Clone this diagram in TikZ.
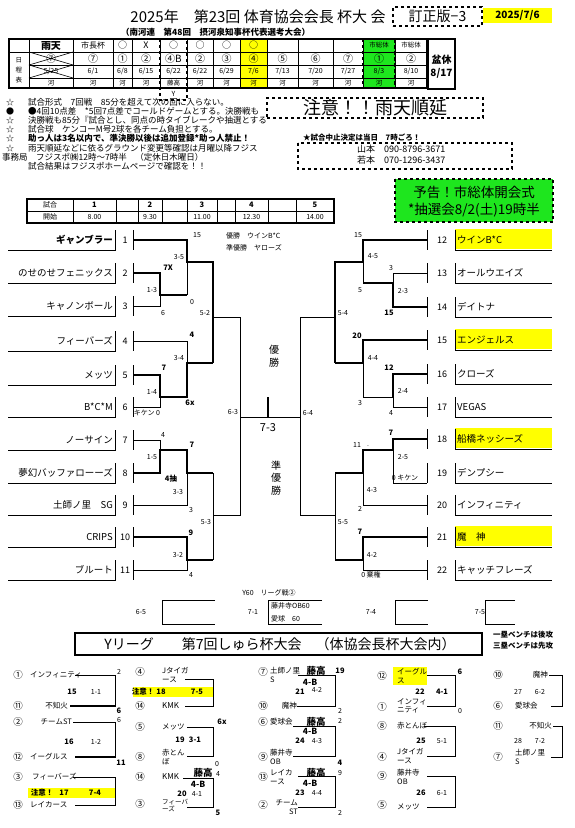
\documentclass[tikz,border=0pt]{standalone}
\usepackage{fontspec}
\setmainfont{Noto Sans CJK JP}
\usepackage{xcolor}
\usetikzlibrary{positioning}
\definecolor{markyellow}{RGB}{255,255,0}
\definecolor{markgreen}{RGB}{30,230,30}

\begin{document}
\begin{tikzpicture}[x=1pt, y=-1pt,
  thinl/.style={line width=0.6pt},
  wonl/.style={line width=2.4pt},
  dashbox/.style={draw, dashed, line width=1.2pt},
  sc/.style={inner sep=0pt, font=\fontsize{7}{8}\selectfont},
  scb/.style={inner sep=0pt, font=\bfseries\fontsize{7.5}{8}\selectfont},
  cell/.style={inner sep=0pt, font=\fontsize{6.5}{7}\selectfont},
  circ/.style={inner sep=0pt, font=\fontsize{10}{10}\selectfont},
  tmname/.style={inner sep=1pt, font=\fontsize{9.5}{11}\selectfont},
  tmnum/.style={inner sep=0pt, font=\fontsize{9}{10}\selectfont},
  note/.style={anchor=west, inner sep=0pt, font=\fontsize{8.5}{10}\selectfont},
  ynum/.style={inner sep=0pt, font=\fontsize{9.5}{10}\selectfont},
  yname/.style={inner sep=0pt, align=left, font=\fontsize{7.5}{8.5}\selectfont},
  fujita/.style={inner sep=0pt, font=\bfseries\fontsize{9.5}{10}\selectfont}
]
\fill[white] (0,0) rectangle (574,828);

% header
\node[font=\fontsize{15}{17}\selectfont, inner sep=0pt] (title) at (258,17) {2025年　第23回 体育協会会長 杯大 会};
\node[font=\bfseries\fontsize{8.5}{10}\selectfont, anchor=west, inner sep=0pt] (subtitle) at (121,32) {（南河連　第48回　摂河泉知事杯代表選考大会）};
\node[dashbox, minimum width=89, minimum height=19, inner sep=0pt, font=\fontsize{14}{16}\selectfont] (rev) at (437.5,16.5) {訂正版−3};
\node[fill=markyellow, minimum width=69, minimum height=15, inner sep=0pt, font=\bfseries\fontsize{10}{12}\selectfont] (date) at (517.5,15.5) {2025/7/6};

% schedule
\fill[markyellow] (240,39) rectangle (267,88);
\fill[markgreen] (363,39) rectangle (395,88);
\foreach \x in {29,73,113,132,160,187,213,240,267,298,333,363,395}
  \draw[thinl] (\x,39) -- (\x,88);
\draw[thinl] (9,52) -- (427,52);
\draw[thinl] (29,65) -- (427,65);
\draw[thinl] (29,78) -- (427,78);
\draw[line width=1.5pt] (9,39) rectangle (427,88);
\draw[dashbox] (160,39) rectangle (187,100);
\draw[dashbox] (363,39) rectangle (395,88);
\draw[dashbox] (395,39) rectangle (427,88);
\node[inner sep=0pt, font=\bfseries\fontsize{10}{10}\selectfont] (rain0) at (51,45.5) {雨天};
\node[inner sep=0pt, font=\fontsize{8}{8}\selectfont] (cup0) at (93,45.5) {市長杯};
\foreach \x/\t in {122.5/○, 146/X, 173.5/○, 200/○, 226.5/○, 253.5/○}
  \node[inner sep=0pt, font=\fontsize{9}{9}\selectfont] at (\x,45.5) {\t};
\node[cell] (city1) at (379,45.5) {市総体};
\node[cell] (city2) at (411,45.5) {市総体};
\foreach \x/\t in {51/⑦, 93/⑦, 122.5/①, 146/②, 173.5/④B, 200/②, 226.5/③, 253.5/④, 282.5/⑤, 315.5/⑥, 348/⑦, 379/①, 411/②}
  \node[circ] at (\x,58.5) {\t};
\foreach \x/\t in {51/{5/25}, 93/{6/1}, 122.5/{6/8}, 146/{6/15}, 173.5/{6/22}, 200/{6/22}, 226.5/{6/29}, 253.5/{7/6}, 282.5/{7/13}, 315.5/{7/20}, 348/{7/27}, 379/{8/3}, 411/{8/10}}
  \node[sc] at (\x,71.5) {\t};
\foreach \x/\t in {51/河, 93/河, 122.5/河, 146/河, 173.5/藤高, 200/河, 226.5/河, 253.5/河, 282.5/河, 315.5/河, 348/河, 379/河, 411/河}
  \node[cell] at (\x,83) {\t};
\draw[thinl] (29,52) -- (73,65) (29,65) -- (73,52);
\draw[thinl] (29,65) -- (73,78) (29,78) -- (73,65);
\node[cell] (d1) at (19,60) {日};
\node[cell] (d2) at (19,70) {程};
\node[cell] (d3) at (19,80) {表};
\node[sc] (ymark) at (173.5,94) {Y};
\draw[line width=1.8pt] (428,39) rectangle (455,89);
\node[inner sep=0pt, font=\bfseries\fontsize{10}{10}\selectfont] (bon) at (441.5,60) {盆休};
\node[inner sep=0pt, font=\bfseries\fontsize{10}{10}\selectfont] (bond) at (441.5,73) {8/17};

% notes
\foreach \y/\s in {102/☆, 111/●, 120.5/☆, 129.5/☆, 138.5/☆, 148/☆}
  \node[inner sep=0pt, font=\fontsize{8}{8}\selectfont] at (10,\y) {\s};
\node[note] (n1) at (28,102) {試合形式　7回戦　85分を超えて次の回に入らない。};
\node[note] (n2) at (28,111) {●4回10点差　*5回7点差でコールドゲームとする。決勝戦も};
\node[note] (n3) at (28,120.5) {決勝戦も85分『試合とし、同点の時タイブレークや抽選とする};
\node[note] (n4) at (28,129.5) {試合球　ケンコーM号2球を各チーム負担とする。};
\node[note, font=\bfseries\fontsize{8.5}{10}\selectfont] (n5) at (28,138.5) {助っ人は3名以内で、準決勝以後は追加登録*助っ人禁止！};
\node[note] (n6) at (28,148) {雨天順延などに依るグラウンド変更等確認は月曜以降フジス};
\node[note] (n7) at (2,157) {事務局　フジスポ㈱12時～7時半　（定休日木曜日）};
\node[note] (n8) at (28,166) {試合結果はフジスポホームページで確認を！！};

\node[dashbox, minimum width=216, minimum height=20, inner sep=0pt, font=\fontsize{18}{19}\selectfont] (rain) at (375,108) {注意！！雨天順延};
\node[anchor=west, inner sep=0pt, font=\bfseries\fontsize{7.5}{9}\selectfont] (stop) at (303,138) {★試合中止決定は当日　7時ごろ！};
\draw[dashbox] (298,143) rectangle (512,169);
\node[anchor=west, inner sep=0pt, font=\fontsize{9}{10}\selectfont] (tel1) at (357,149.5) {山本　090-8796-3671};
\node[anchor=west, inner sep=0pt, font=\fontsize{9}{10}\selectfont] (tel2) at (357,160.5) {若本　070-1296-3437};
\draw[dashbox, fill=markgreen] (395,179) rectangle (553,222);
\node[inner sep=0pt, font=\fontsize{13.5}{15}\selectfont] (open1) at (474,192) {予告！市総体開会式};
\node[inner sep=0pt, font=\fontsize{13.5}{15}\selectfont] (open2) at (474,210) {*抽選会8/2(土)19時半};

% start times
\draw[line width=1.5pt] (27,199) rectangle (334,223);
\draw[thinl] (27,211) -- (334,211);
\foreach \x in {73,116,138,162,187,217,235,268,296}
  \draw[thinl] (\x,199) -- (\x,223);
\node[sc] (game) at (50,205) {試合};
\node[sc] (start) at (50,217) {開始};
\foreach \x/\g/\t in {94.5/1/8.00, 150/2/9.30, 202/3/11.00, 251.5/4/12.30, 315/5/14.00}{
  \node[scb] at (\x,205) {\g};
  \node[sc] at (\x,217) {\t};
}

% teams
\foreach \y/\n/\t in {240/1/{\bfseries ギャンブラー}, 273/2/のせのせフェニックス, 306/3/キャノンボール, 341/4/フィーバーズ, 375/5/メッツ, 407/6/B*C*M, 440/7/ノーサイン, 473/8/夢幻バッファローーズ, 505/9/土師ノ里　SG, 537/10/CRIPS, 570/11/ブルート}{
  \draw[thinl] (8,\y+10) -- (115,\y+10) -- (115,\y-10);
  \node[tmname, anchor=east] (L\n) at (114,\y) {\t};
  \node[tmnum] at (125,\y) {\n};
  \draw[thinl] (133,\y-10) -- (133,\y+10);
}
\foreach \y in {240,340,439,537}
  \fill[markyellow] (455,\y-11) rectangle (552,\y+9);
\foreach \y/\n/\t in {240/12/ウインB*C, 273/13/オールウエイズ, 307/14/デイトナ, 340/15/エンジェルス, 374/16/クローズ, 407/17/VEGAS, 439/18/船橋ネッシーズ, 473/19/デンプシー, 505/20/インフィニティ, 537/21/魔　神, 570/22/キャッチフレーズ}{
  \draw[thinl] (427,\y-10) -- (427,\y+10);
  \node[tmnum] at (442,\y) {\n};
  \draw[thinl] (455,\y-10) -- (455,\y+10) -- (552,\y+10);
  \node[tmname, anchor=west] (R\n) at (456,\y) {\t};
}

% left bracket
\draw[wonl] (133,240) -- (187,240) -- (187,262) -- (213,262) -- (213,363);
\draw[thinl] (187,262) -- (187,295);
\draw[wonl] (133,273) -- (160,273) -- (160,295) -- (187,295);
\draw[thinl] (133,306) -- (160,306) -- (160,295);
\draw[thinl] (133,341) -- (187,341) -- (187,363);
\draw[wonl] (133,375) -- (160,375) -- (160,397) -- (187,397) -- (187,363) -- (213,363);
\draw[thinl] (133,407) -- (160,407) -- (160,397);
\draw[thinl] (213,317) -- (240,317) -- (240,515) -- (213,515);
\draw[thinl] (133,440) -- (160,440) -- (160,450);
\draw[wonl] (133,473) -- (160,473) -- (160,450) -- (187,450) -- (187,473) -- (213,473);
\draw[thinl] (133,505) -- (187,505) -- (187,473);
\draw[wonl] (133,537) -- (187,537) -- (187,560) -- (213,560);
\draw[thinl] (133,570) -- (187,570) -- (187,560);
\draw[thinl] (213,473) -- (213,560);

% final
\draw[thinl] (240,417) -- (300,417);
\draw[wonl] (268,397) -- (268,417);
\node[inner sep=0pt, font=\fontsize{11}{11}\selectfont] (final) at (268,428) {7-3};
\node[inner sep=0pt, font=\fontsize{10}{10}\selectfont] at (274,350) {優};
\node[inner sep=0pt, font=\fontsize{10}{10}\selectfont] at (274,363) {勝};
\node[inner sep=0pt, font=\fontsize{10}{10}\selectfont] at (276,466) {準};
\node[inner sep=0pt, font=\fontsize{10}{10}\selectfont] at (276,478) {優};
\node[inner sep=0pt, font=\fontsize{10}{10}\selectfont] at (276,491) {勝};
\node[anchor=west, sc] (champ) at (226,236) {優勝　ウインB*C};
\node[anchor=west, sc] (second) at (226,248) {準優勝　ヤローズ};

% right bracket
\draw[wonl] (427,240) -- (363,240) -- (363,262) -- (335,262) -- (335,363);
\draw[thinl] (363,262) -- (363,283);
\draw[thinl] (427,273) -- (393,273) -- (393,283);
\draw[wonl] (427,307) -- (393,307) -- (393,283) -- (363,283);
\draw[thinl] (335,317) -- (300,317) -- (300,515) -- (335,515);
\draw[wonl] (427,340) -- (363,340) -- (363,363) -- (335,363);
\draw[thinl] (363,363) -- (363,397) -- (393,397);
\draw[wonl] (427,374) -- (393,374) -- (393,397);
\draw[thinl] (427,407) -- (393,407) -- (393,397);
\draw[wonl] (427,439) -- (393,439) -- (393,450) -- (363,450) -- (363,473) -- (335,473);
\draw[thinl] (393,450) -- (393,483) -- (427,483);
\draw[thinl] (427,505) -- (363,505) -- (363,473);
\draw[thinl] (335,473) -- (335,560);
\draw[wonl] (427,537) -- (363,537) -- (363,560) -- (335,560);
\draw[thinl] (427,570) -- (363,570) -- (363,560);

% scores left
\node[sc] at (197,235) {15};
\node[sc] at (179,257) {3-5};
\node[scb] at (168,268) {7X};
\node[sc] at (152,290) {1-3};
\node[sc] at (163,313) {6};
\node[sc] at (192,302) {0};
\node[sc] at (205,313) {5-2};
\node[scb] at (192,335) {4};
\node[sc] at (179,358) {3-4};
\node[scb] at (164,368) {7};
\node[sc] at (152,392) {1-4};
\node[scb] at (190,403) {6x};
\node[sc] at (147,413) {キケン 0};
\node[sc] at (233,412) {6-3};
\node[sc] at (163,435) {4};
\node[scb] at (192,445) {7};
\node[sc] at (152,457) {1-5};
\node[scb] at (171,479) {4抽};
\node[sc] at (178,492) {3-3};
\node[sc] at (191,510) {3};
\node[sc] at (206,522) {5-3};
\node[scb] at (191,533) {9};
\node[sc] at (178,555) {3-2};
\node[sc] at (191,575) {4};

% scores right
\node[sc] at (358,235) {15};
\node[sc] at (373,256) {4-5};
\node[sc] at (391,268) {3};
\node[sc] at (360,290) {5};
\node[sc] at (403,291) {2-3};
\node[scb] at (389,313) {15};
\node[sc] at (343,313) {5-4};
\node[scb] at (357,336) {20};
\node[sc] at (373,358) {4-4};
\node[scb] at (389,368) {12};
\node[sc] at (403,391) {2-4};
\node[sc] at (360,403) {3};
\node[sc] at (391,413) {4};
\node[sc] at (308,413) {6-4};
\node[scb] at (391,433) {7};
\node[sc] at (357,445) {11};
\node[sc] at (368,446) {.};
\node[sc] at (403,457) {2-5};
\node[sc] at (405,478) {0 キケン};
\node[sc] at (372,490) {4-3};
\node[sc] at (360,509) {2};
\node[sc] at (343,522) {5-5};
\node[scb] at (360,532) {7};
\node[sc] at (372,555) {4-2};
\node[sc] at (371,575) {0 棄権};

% Y60 league
\node[sc] (y60) at (269,593) {Y60　リーグ戦②};
\node[sc] at (141,612) {6-5};
\draw[thinl] (215,600) -- (162,600) -- (162,624) -- (215,624);
\node[sc] at (253,612) {7-1};
\draw[thinl] (322,600) -- (268,600) -- (268,624) -- (322,624);
\node[sc, anchor=west] (y60a) at (271,606) {藤井寺OB60};
\node[sc, anchor=west] (y60b) at (271,619) {愛球　60};
\node[sc] at (371,612) {7-4};
\draw[thinl] (428,600) -- (395,600) -- (395,624) -- (428,624);
\node[sc] at (480,612) {7-5};
\draw[thinl] (515,600) -- (485,600) -- (485,624) -- (515,624);

% Y league title
\draw[line width=2pt] (75,633) rectangle (482,655);
\node[inner sep=0pt, font=\fontsize{14}{15}\selectfont] (ytitle) at (280,644) {Yリーグ　　第7回しゅら杯大会　（体協会長杯大会内）};
\node[inner sep=0pt, anchor=west, font=\bfseries\fontsize{7.5}{8}\selectfont] (bench1) at (493,635) {一塁ベンチは後攻};
\node[inner sep=0pt, anchor=west, font=\bfseries\fontsize{7.5}{8}\selectfont] (bench3) at (493,646) {三塁ベンチは先攻};

% Y league column 1
\fill[markyellow] (28,788) rectangle (115,798);
\foreach \y/\c in {675/①, 706/⑪, 722/②, 757/⑫, 777/③, 805/⑬}
  \node[ynum] at (18,\y) {\c};
\node[yname, anchor=west] (a1) at (30,675) {インフィニティ};
\node[yname, anchor=east] (a2) at (68,706) {不知火};
\draw[thinl] (75,675) -- (115,675) -- (115,706);
\draw[wonl] (70,706) -- (116,706);
\node[sc] at (119,672) {2};
\node[scb] at (72,692) {15};
\node[sc] at (96,692) {1-1};
\node[scb] at (119,711) {6};
\node[yname, anchor=east] (b1) at (72,722) {チームST};
\node[yname, anchor=west] (b2) at (30,757) {イーグルス};
\draw[thinl] (73,722) -- (115,722) -- (115,757);
\draw[wonl] (75,757) -- (116,757);
\node[sc] at (119,720) {6};
\node[scb] at (69,742) {16};
\node[sc] at (96,742) {1-2};
\node[scb] at (121,763) {11};
\node[yname, anchor=west] (c1) at (32,777) {フィーバーズ};
\node[yname, anchor=west] (c2) at (30,805) {レイカース};
\draw[thinl] (73,777) -- (115,777) -- (115,805) -- (75,805);
\node[scb] at (42,793) {注意！};
\node[scb] at (64,793) {17};
\node[scb] at (95,793) {7-4};

% Y league column 2
\fill[markyellow] (133,687) rectangle (213,697);
\foreach \y/\c in {672/④, 706/⑭, 727/⑤, 757/⑧, 777/⑭, 804/③}
  \node[ynum] at (140,\y) {\c};
\node[yname, anchor=west] (d1n) at (162,675) {Jタイガ\\ース};
\node[yname, anchor=west, font=\fontsize{8}{9}\selectfont] (d2n) at (162,706) {KMK};
\draw[thinl] (185,679) -- (213,679) -- (213,706) -- (185,706);
\node[scb] at (143,692) {注意！};
\node[scb] at (161,692) {18};
\node[scb] at (197,692) {7-5};
\node[yname, anchor=west] (e1n) at (162,727) {メッツ};
\node[yname, anchor=west] (e2n) at (162,757) {赤とん\\ぼ};
\draw[thinl] (187,727) -- (213,727) -- (213,756) -- (187,756);
\node[scb] at (222,722) {6x};
\node[scb] at (180,740) {19};
\node[scb] at (195,740) {3-1};
\node[sc] at (217,764) {0};
\node[yname, anchor=west, font=\fontsize{8}{9}\selectfont] (f1n) at (162,777) {KMK};
\node[yname, anchor=west, font=\fontsize{6.5}{7}\selectfont] (f2n) at (162,805) {フィーバ\\ーズ};
\draw[thinl] (183,778) -- (213,778) -- (213,807) -- (187,807);
\node[fujita] at (203,773) {藤高};
\node[sc] at (218,774) {4};
\node[fujita, font=\bfseries\fontsize{8.5}{9}\selectfont] at (198,784) {4-B};
\node[scb] at (182,794) {20};
\node[sc] at (197,794) {4-1};
\node[scb] at (218,813) {5};

% Y league column 3
\foreach \y/\c in {672/⑦, 706/⑩, 722/⑥, 757/⑨, 777/⑬, 805/②}
  \node[ynum] at (263,\y) {\c};
\node[yname, anchor=west] (g1n) at (270,675) {土師ノ里\\S};
\node[yname, anchor=east] (g2n) at (297,706) {魔神};
\draw[thinl] (298,675) -- (335,675) -- (335,706) -- (297,706);
\node[fujita] at (316,671) {藤高};
\node[scb] at (340,671) {19};
\node[fujita, font=\bfseries\fontsize{8.5}{9}\selectfont] at (310,682) {4-B};
\node[scb] at (300,692) {21};
\node[sc] at (317,690) {4-2};
\node[sc] at (340,711) {2};
\node[yname, anchor=west] (h1n) at (270,722) {愛球会};
\node[yname, anchor=west] (h2n) at (270,757) {藤井寺\\OB};
\draw[thinl] (293,726) -- (335,726) -- (335,756) -- (293,756);
\node[fujita] at (316,722) {藤高};
\node[sc] at (340,721) {2};
\node[fujita, font=\bfseries\fontsize{8.5}{9}\selectfont] at (310,731) {4-B};
\node[scb] at (300,741) {24};
\node[sc] at (317,741) {4-3};
\node[scb] at (340,763) {4};
\node[yname, anchor=west] (i1n) at (270,777) {レイカ\\ース};
\node[yname, anchor=east, align=right] (i2n) at (298,807) {チーム\\ST};
\draw[thinl] (298,776) -- (335,776) -- (335,807) -- (298,807);
\node[fujita] at (316,773) {藤高};
\node[sc] at (340,773) {9};
\node[fujita, font=\bfseries\fontsize{8.5}{9}\selectfont] at (310,783) {4-B};
\node[scb] at (300,793) {23};
\node[sc] at (317,793) {4-4};
\node[sc] at (340,813) {2};

% Y league column 4
\fill[markyellow] (393,667) rectangle (427,685);
\foreach \y/\c in {676/⑫, 707/①, 726/⑧, 757/④, 776/⑨, 805/⑤}
  \node[ynum] at (382,\y) {\c};
\node[yname, anchor=west] (j1n) at (397,676) {イーグル\\ス};
\node[yname, anchor=west] (j2n) at (397,706) {インフィ\\ニティ};
\draw[thinl] (427,675) -- (455,675) -- (455,706) -- (427,706);
\node[scb] at (460,672) {6};
\node[scb] at (420,692) {22};
\node[scb] at (442,692) {4-1};
\node[sc] at (460,711) {0};
\node[yname, anchor=west] (k1n) at (397,726) {赤とんぼ};
\node[yname, anchor=west] (k2n) at (397,756) {Jタイガ\\ース};
\draw[thinl] (424,726) -- (455,726) -- (455,756) -- (427,756);
\node[scb] at (421,741) {25};
\node[sc] at (442,741) {5-1};
\node[yname, anchor=west] (l1n) at (397,777) {藤井寺\\OB};
\node[yname, anchor=west] (l2n) at (397,807) {メッツ};
\draw[thinl] (427,776) -- (455,776) -- (455,807) -- (427,807);
\node[scb] at (421,793) {26};
\node[sc] at (442,793) {6-1};

% Y league column 5
\foreach \y/\c in {675/⑩, 706/⑥, 726/⑪, 757/⑦}
  \node[ynum] at (498,\y) {\c};
\node[yname, anchor=east] (m1n) at (548,675) {魔神};
\node[yname, anchor=west] (m2n) at (515,706) {愛球会};
\draw[thinl] (549,675) -- (562,675) -- (562,706) -- (551,706);
\node[sc] at (518,692) {27};
\node[sc] at (540,692) {6-2};
\node[yname, anchor=east] (o1n) at (552,726) {不知火};
\node[yname, anchor=west] (o2n) at (515,757) {土師ノ里\\S};
\draw[thinl] (553,726) -- (562,726) -- (562,757) -- (551,757);
\node[sc] at (518,741) {28};
\node[sc] at (540,741) {7-2};
\end{tikzpicture}
\end{document}
